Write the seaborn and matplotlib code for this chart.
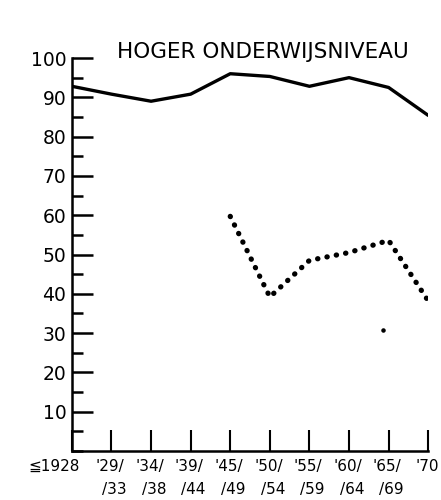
import matplotlib
matplotlib.use("Agg")
import matplotlib.pyplot as plt
import matplotlib.transforms as mtransforms
from matplotlib.ticker import MultipleLocator
import seaborn as sns
import pandas as pd

# periods on the x axis (top line / bottom line of each label)
periods_top = ["\u22661928", "'29/", "'34/", "'39/", "'45/", "'50/", "'55/", "'60/", "'65/", "'70"]
periods_bottom = ["", "/33", "/38", "/44", "/49", "/54", "/59", "/64", "/69", ""]

# solid line: all periods
solid_values = [92.8, 90.8, 89.0, 90.8, 96.0, 95.3, 92.8, 95.0, 92.5, 85.4]

# dotted line: from '45/49 onwards
dotted_idx = [4, 5, 6, 7, 8, 9]
dotted_values = [59.7, 39.2, 48.5, 50.5, 53.6, 38.2]

# stray dot
stray_x = [7.85]
stray_y = [30.7]

title = "HOGER ONDERWIJSNIVEAU"

sns.set_style("white")
plt.rcParams["font.family"] = ["DejaVu Sans"]
plt.rcParams["text.color"] = "black"
plt.rcParams["xtick.color"] = "black"
plt.rcParams["ytick.color"] = "black"

fig = plt.figure(figsize=(4.41, 5.0), dpi=100)
ax = fig.add_axes([0.163, 0.098, 0.808, 0.786])

solid = pd.DataFrame({"x": range(len(solid_values)), "y": solid_values})
dotted = pd.DataFrame({"x": dotted_idx, "y": dotted_values})

sns.lineplot(data=solid, x="x", y="y", ax=ax, color="black", lw=2.4,
             solid_joinstyle="round")
sns.lineplot(data=dotted, x="x", y="y", ax=ax, color="black", lw=3.8,
             linestyle=(0, (0.05, 1.75)), dash_capstyle="round")
ax.scatter(stray_x, stray_y, s=5, color="black")

ax.set_xlim(0, 9)
ax.set_ylim(0, 100)
ax.set_xlabel("")
ax.set_ylabel("")

for s in ["top", "right"]:
    ax.spines[s].set_visible(False)
for s in ["left", "bottom"]:
    ax.spines[s].set_linewidth(1.8)
    ax.spines[s].set_color("black")

ax.yaxis.set_major_locator(MultipleLocator(10))
ax.yaxis.set_minor_locator(MultipleLocator(5))
ax.set_yticks(range(10, 101, 10))
ax.set_yticklabels([str(v) for v in range(10, 101, 10)], fontsize=13.5,
                   color="black")
ax.tick_params(axis="y", which="both", left=True, color="black")
ax.tick_params(axis="y", which="major", direction="in", length=15, width=1.8, pad=4)
ax.tick_params(axis="y", which="minor", direction="in", length=8, width=1.8)

ax.set_xticks(range(len(periods_top)))
ax.set_xticklabels([])
ax.tick_params(axis="x", which="major", bottom=True, color="black",
               direction="in", length=15, width=1.5)

trans = mtransforms.blended_transform_factory(ax.transData, ax.transAxes)
fs = 11
for i, (top, bot) in enumerate(zip(periods_top, periods_bottom)):
    if i == 0:
        ax.text(i + 0.2, -0.04, top, transform=trans, ha="right", va="center",
                fontsize=fs, color="black")
    elif i == len(periods_top) - 1:
        ax.text(i - 0.33, -0.04, top, transform=trans, ha="left", va="center",
                fontsize=fs, color="black", clip_on=False)
    else:
        ax.text(i + 0.33, -0.04, top, transform=trans, ha="right", va="center",
                fontsize=fs, color="black")
        ax.text(i + 0.38, -0.097, bot, transform=trans, ha="right", va="center",
                fontsize=fs, color="black")

ax.text(0.944, 1.0, title, transform=ax.transAxes, ha="right", va="baseline",
        fontsize=15.5, color="black")

fig.savefig("out.png", dpi=100)
